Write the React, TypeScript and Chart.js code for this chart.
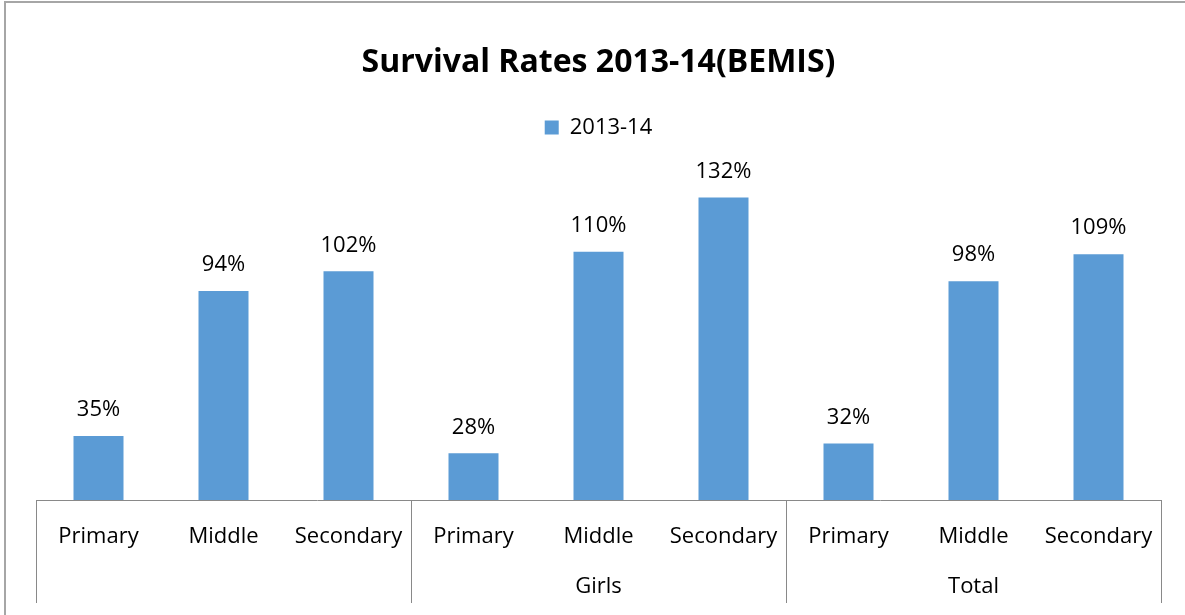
import React, { useEffect, useRef } from "react";
import { Chart, registerables } from "chart.js";

Chart.register(...registerables);

const categories = ["Primary", "Middle", "Secondary", "Primary", "Middle", "Secondary", "Primary", "Middle", "Secondary"];
const groupLabels = ["", "Girls", "Total"];
const seriesName = "2013-14";
const values = [35, 94, 102, 28, 110, 132, 32, 98, 109];
const valueLabels = ["35%", "94%", "102%", "28%", "110%", "132%", "32%", "98%", "109%"];
const titleText = "Survival Rates 2013-14(BEMIS)";

const FONT = "'Open Sans', 'Noto Sans', sans-serif";
const BAR = "#5B9BD5";
const LINE = "#898989";

const decorPlugin = {
  id: "decor",
  beforeDraw(chart: any) {
    const { ctx, width, height } = chart;
    ctx.save();
    ctx.fillStyle = "#ffffff";
    ctx.fillRect(0, 0, width, height);
    ctx.strokeStyle = "#a6a6a6";
    ctx.lineWidth = 2;
    ctx.beginPath();
    ctx.moveTo(5, height);
    ctx.lineTo(5, 2);
    ctx.lineTo(width, 2);
    ctx.stroke();
    ctx.restore();
  },
  afterDraw(chart: any) {
    const { ctx, chartArea } = chart;
    const x = chart.scales.x;
    const n = categories.length;
    const step = x.getPixelForValue(1) - x.getPixelForValue(0);
    const bounds = [0, 3, 6, 9].map((i) =>
      i < n ? x.getPixelForValue(i) - step / 2 : x.getPixelForValue(n - 1) + step / 2
    );
    ctx.save();
    ctx.strokeStyle = LINE;
    ctx.lineWidth = 1;
    bounds.forEach((b) => {
      const px = Math.round(b) + 0.5;
      ctx.beginPath();
      ctx.moveTo(px, chartArea.bottom);
      ctx.lineTo(px, 603);
      ctx.stroke();
    });
    ctx.restore();
  },
  afterDatasetsDraw(chart: any) {
    const { ctx } = chart;
    const meta = chart.getDatasetMeta(0);
    ctx.save();
    ctx.fillStyle = "#000000";
    ctx.font = `22px ${FONT}`;
    ctx.textAlign = "center";
    ctx.textBaseline = "middle";
    meta.data.forEach((bar: any, i: number) => {
      ctx.fillText(valueLabels[i], bar.x, bar.y - 26);
    });
    ctx.restore();
  },
};

export default function App() {
  const ref = useRef<HTMLCanvasElement | null>(null);
  useEffect(() => {
    if (!ref.current) return;
    const chart = new Chart(ref.current, {
      type: "bar",
      data: {
        labels: categories,
        datasets: [
          {
            label: seriesName,
            data: values,
            backgroundColor: BAR,
            borderWidth: 0,
            barPercentage: 0.4,
            categoryPercentage: 1,
          },
        ],
      },
      options: {
        animation: false,
        responsive: false,
        maintainAspectRatio: false,
        layout: { padding: { left: 36, right: 24, top: 0, bottom: 0 } },
        plugins: {
          title: {
            display: true,
            text: titleText,
            color: "#000000",
            font: { family: FONT, size: 32, weight: "bold" },
            padding: { top: 44, bottom: 26 },
          },
          legend: {
            display: true,
            labels: {
              color: "#000000",
              font: { family: FONT, size: 22 },
              boxWidth: 14,
              boxHeight: 14,
              padding: 8,
            },
          },
          tooltip: { enabled: false },
        },
        scales: {
          y: {
            display: false,
            min: 9,
            max: 152,
          },
          x: {
            position: "bottom",
            grid: { display: false, drawTicks: false },
            border: { display: true, color: LINE, width: 1 },
            ticks: {
              color: "#000000",
              font: { family: FONT, size: 22 },
              padding: 24,
              maxRotation: 0,
              autoSkip: false,
            },
            afterFit(scale: any) {
              scale.height = 60;
            },
          },
          x2: {
            type: "category",
            position: "bottom",
            labels: groupLabels,
            offset: true,
            grid: { display: false, drawTicks: false },
            border: { display: false },
            ticks: {
              color: "#000000",
              font: { family: FONT, size: 22 },
              padding: 14,
              maxRotation: 0,
              autoSkip: false,
            },
            afterFit(scale: any) {
              scale.height = 55;
            },
          },
        },
      } as any,
      plugins: [decorPlugin],
    });
    return () => chart.destroy();
  }, []);
  return (
    <div style={{ position: "fixed", left: 0, top: 0, width: 1185, height: 615, background: "#fff" }}>
      <canvas ref={ref} width={1185} height={615} style={{ width: 1185, height: 615, display: "block" }} />
    </div>
  );
}
